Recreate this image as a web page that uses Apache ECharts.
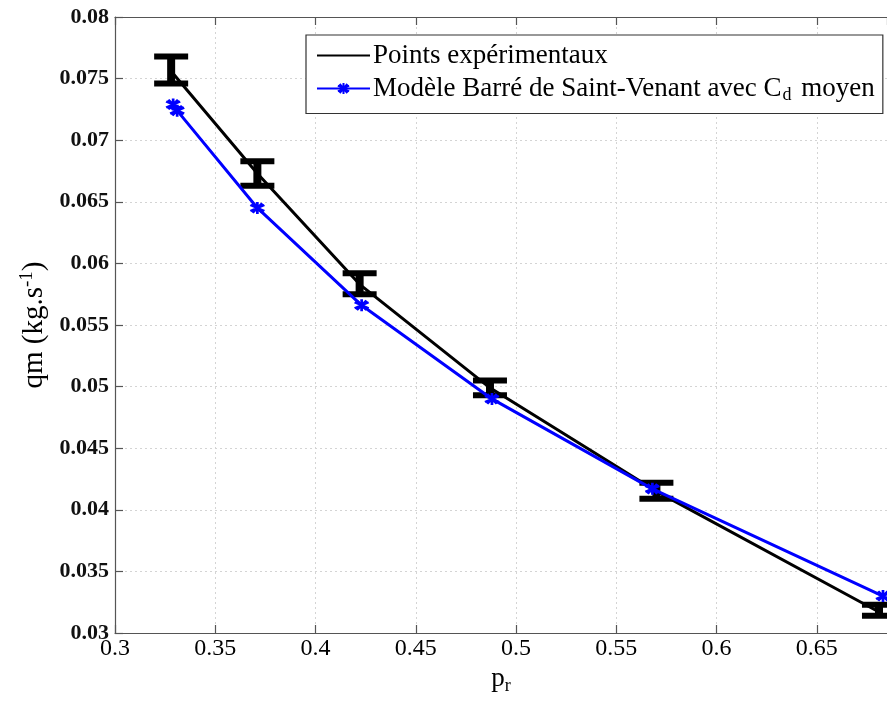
<!DOCTYPE html>
<html>
<head>
<meta charset="utf-8">
<script src="https://cdn.jsdelivr.net/npm/echarts@6/dist/echarts.min.js"></script>
<style>html,body{margin:0;padding:0;background:#fff;}#c{width:887px;height:704px;}</style>
</head>
<body>
<div id="c"></div>
<script>
// Experimental points (black) with error bars
const prExp   = [0.328, 0.371, 0.422, 0.487, 0.570, 0.681];
const qmExp   = [0.0756, 0.0673, 0.0583, 0.0499, 0.0415, 0.0317];
const qmLow   = [0.0746, 0.0663, 0.0575, 0.0493, 0.0409, 0.0314];
const qmHigh  = [0.0768, 0.0683, 0.0592, 0.0505, 0.0422, 0.0323];
// Model (blue)
const prModel = [0.329, 0.331, 0.371, 0.423, 0.488, 0.568, 0.683];
const qmModel = [0.0729, 0.0724, 0.0645, 0.0566, 0.0490, 0.0417, 0.0330];
// Axis ticks
const xTicks = [0.3, 0.35, 0.4, 0.45, 0.5, 0.55, 0.6, 0.65];
const yTicks = [0.03, 0.035, 0.04, 0.045, 0.05, 0.055, 0.06, 0.065, 0.07, 0.075, 0.08];

const FONT = '"Liberation Serif", "Times New Roman", serif';
const fmt = v => { let s = (+v).toFixed(3); s = s.replace(/0+$/, ''); if (s.endsWith('.')) s = s.slice(0, -1); return s; };

const chart = echarts.init(document.getElementById('c'), null, {renderer: 'canvas'});

const expLine = prExp.map((x, i) => [x, qmExp[i]]);
const errData = prExp.map((x, i) => [x, qmLow[i], qmHigh[i]]);
const modelLine = prModel.map((x, i) => [x, qmModel[i]]);

const axisLineStyle = {color: '#555', width: 1.2};

chart.setOption({
  animation: false,
  backgroundColor: '#fff',
  grid: {left: 115, top: 17, right: 0, bottom: 71, containLabel: false},
  legend: {
    orient: 'vertical',
    left: 306, top: 35,
    backgroundColor: '#fff',
    borderColor: '#333', borderWidth: 1.2, borderRadius: 0,
    padding: [7, 8, 9, 10],
    itemGap: 6,
    itemWidth: 53, itemHeight: 14,
    data: [
      {name: 'Points expérimentaux', itemStyle: {opacity: 0}},
      {name: 'Modèle'}
    ],
    formatter: n => n === 'Modèle' ? 'Modèle Barré de Saint-Venant avec C{sub|d} moyen' : n,
    textStyle: {
      fontFamily: FONT, fontSize: 27, color: '#000', padding: [0, 0, 0, -2],
      rich: {sub: {fontFamily: FONT, fontSize: 18, verticalAlign: 'bottom', padding: [14, 3, 0, 1], color: '#000'}}
    }
  },
  xAxis: [{
    type: 'value', min: 0.3, max: 0.685, interval: 0.05,
    position: 'bottom',
    axisLine: {show: true, onZero: false, lineStyle: axisLineStyle},
    axisTick: {show: true, inside: true, length: 8, lineStyle: axisLineStyle},
    axisLabel: {showMaxLabel: false, fontFamily: FONT, fontSize: 24, color: '#000', margin: 4,
      formatter: v => xTicks.some(t => Math.abs(t - v) < 1e-6) ? fmt(v) : ''},
    splitLine: {show: true, lineStyle: {color: '#d4d4d4', type: [2, 3], width: 1}},
    name: 'p{sub|r}', nameLocation: 'middle', nameGap: 30,
    nameTextStyle: {fontFamily: FONT, fontSize: 27, color: '#000',
      rich: {sub: {fontFamily: FONT, fontSize: 18, verticalAlign: 'bottom', padding: [14, 0, 0, 0]}}}
  }, {
    type: 'value', min: 0.3, max: 0.685, interval: 0.05,
    position: 'top',
    axisLine: {show: true, onZero: false, lineStyle: axisLineStyle},
    axisTick: {show: true, inside: true, length: 8, lineStyle: axisLineStyle},
    axisLabel: {show: false},
    splitLine: {show: false}
  }],
  yAxis: [{
    type: 'value', min: 0.03, max: 0.08, interval: 0.005,
    axisLine: {show: true, onZero: false, lineStyle: axisLineStyle},
    axisTick: {show: true, inside: true, length: 8, lineStyle: axisLineStyle},
    axisLabel: {fontFamily: FONT, fontSize: 22, fontWeight: 'bold', color: '#111', margin: 6,
      formatter: v => yTicks.some(t => Math.abs(t - v) < 1e-7) ? fmt(v) : ''},
    splitLine: {show: true, lineStyle: {color: '#d4d4d4', type: [2, 3], width: 1}},
    name: 'qm (kg.s{sup|-1})', nameLocation: 'middle', nameRotate: 90, nameGap: 60,
    nameTextStyle: {fontFamily: FONT, fontSize: 29, color: '#000',
      rich: {sup: {fontFamily: FONT, fontSize: 19, verticalAlign: 'top', padding: [0, 0, 14, 0]}}}
  }],
  series: [
    {
      name: 'Points expérimentaux', type: 'line', data: expLine,
      showSymbol: false, symbol: 'none', clip: false,
      lineStyle: {color: '#000', width: 3}, itemStyle: {color: '#000'}, z: 2
    },
    {
      name: 'errbar', type: 'custom', data: errData, clip: false, z: 3,
      renderItem: function (params, api) {
        const x = api.value(0);
        const lo = api.coord([x, api.value(1)]);
        const hi = api.coord([x, api.value(2)]);
        const hw = 17;
        const st = {stroke: '#000', lineWidth: 6, lineCap: 'butt'};
        return {type: 'group', children: [
          {type: 'line', shape: {x1: lo[0], y1: lo[1], x2: hi[0], y2: hi[1]}, style: {stroke: '#000', lineWidth: 8}},
          {type: 'line', shape: {x1: hi[0] - hw, y1: hi[1], x2: hi[0] + hw, y2: hi[1]}, style: st},
          {type: 'line', shape: {x1: lo[0] - hw, y1: lo[1], x2: lo[0] + hw, y2: lo[1]}, style: st}
        ]};
      }
    },
    {
      name: 'Modèle', type: 'line', data: modelLine, clip: false, z: 4,
      symbol: 'path://M0,-10 L0,10 M-8.7,-5 L8.7,5 M-8.7,5 L8.7,-5 M-6,-8 L6,8 M-6,8 L6,-8',
      symbolSize: [14, 12], showSymbol: true,
      lineStyle: {color: '#0000ff', width: 3},
      itemStyle: {color: '#0000ff', borderColor: '#0000ff', borderWidth: 2.5}
    }
  ]
});
</script>
</body>
</html>
